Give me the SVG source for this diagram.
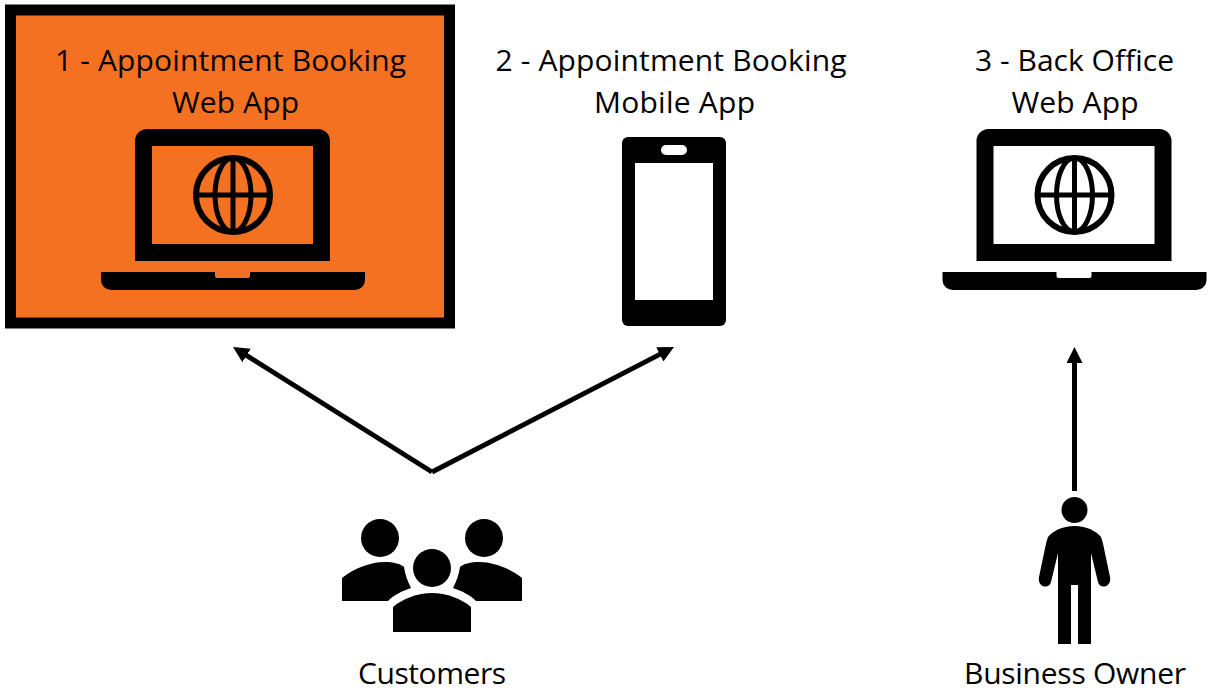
<svg xmlns="http://www.w3.org/2000/svg" width="1212" height="693" viewBox="0 0 1212 693">
<style>
text{font-family:"Open Sans","Noto Sans",sans-serif;font-size:30px;fill:#000;text-anchor:middle}
.c{fill:none;stroke:#000;stroke-width:5}
</style>
<defs>
<marker id="a" markerUnits="userSpaceOnUse" markerWidth="16" markerHeight="16" viewBox="0 0 16 16" refX="6" refY="8" orient="auto"><path d="M0 0L16 8L0 16z"/></marker>
<g id="laptop">
<path fill-rule="evenodd" d="M135 261V141a12 12 0 0 1 12-12H318a12 12 0 0 1 12 12V261zM152 146V244H313V146z"/>
<path d="M101 272H215V276a2 2 0 0 0 2 2H248a2 2 0 0 0 2-2V272H365V280a10 10 0 0 1-10 10H111a10 10 0 0 1-10-10z"/>
<g fill="none" stroke="#000" stroke-width="6"><circle cx="233" cy="195" r="37"/><ellipse cx="233" cy="195" rx="18" ry="37" stroke-width="5"/><path stroke-width="5" d="M233 158V232M196 195H270"/></g>
</g>
</defs>
<rect width="1212" height="693" fill="#fff"/>
<g id="connectors">
<path class="c" marker-end="url(#a)" d="M432 472L241.5 352.3"/>
<path class="c" marker-end="url(#a)" d="M432 472L665.1 351.6"/>
<path class="c" marker-end="url(#a)" d="M1074.5 491V357"/>
</g>
<g id="node1">
<rect x="10.5" y="10" width="439" height="313" fill="#f47122" stroke="#000" stroke-width="11"/>
<text x="230.5" y="71" textLength="351">1 - Appointment Booking</text><text x="235.5" y="113" textLength="127">Web App</text>
<use href="#laptop"/>
</g>
<g id="node2">
<text x="671" y="71" textLength="351">2 - Appointment Booking</text><text x="674.5" y="113" textLength="161">Mobile App</text>
<rect x="622" y="137" width="104" height="189" rx="6"/>
<rect x="635" y="163" width="78" height="137" fill="#fff"/>
<rect x="661" y="145" width="26" height="10" rx="5" fill="#fff"/>
</g>
<g id="node3">
<text x="1074.5" y="71" textLength="199">3 - Back Office</text><text x="1075" y="113" textLength="127">Web App</text>
<use href="#laptop" x="841.5"/>
</g>
<g id="customers">
<circle cx="380" cy="538" r="19"/><circle cx="484" cy="538" r="19"/><circle cx="432" cy="568" r="19"/>
<path d="M342 601V578C354 568 372 562 384 562C394 562 401 564 404 567C405 575 408 582 411 588C402 591 394 595 388 601z"/>
<path d="M522 601V578C510 568 492 562 480 562C470 562 463 564 460 567C459 575 456 582 453 588C462 591 470 595 476 601z"/>
<path d="M393 632V607C402 599 418 593 432 593C446 593 462 599 471 607V632z"/>
<text x="432" y="684" textLength="148">Customers</text>
</g>
<g id="owner">
<circle cx="1074.5" cy="510" r="13"/>
<path d="M1074.5 526C1062 526 1053 531 1048 537C1047 540 1046 543 1045.5 546L1039 577C1037 587 1049 590 1051 582L1058 553V644H1071V585H1078V644H1091V553L1098 582C1100 590 1112 587 1110 577L1103.5 546C1103 543 1102 540 1101 537C1096 531 1087 526 1074.5 526z"/>
<text x="1075" y="684" textLength="222">Business Owner</text>
</g>
</svg>
